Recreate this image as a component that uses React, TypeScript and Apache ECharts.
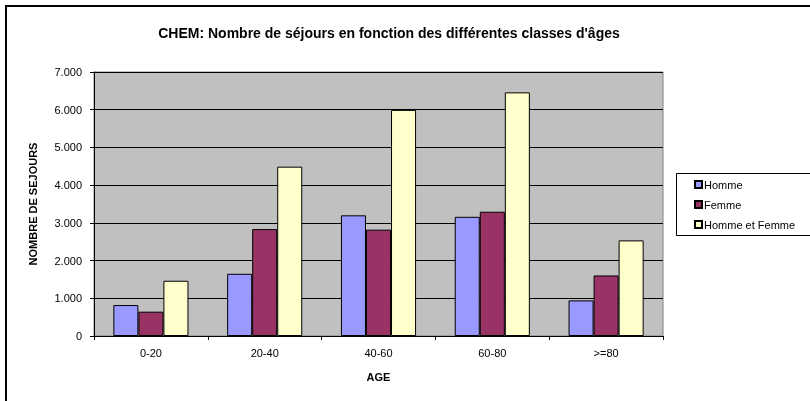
import React, { useEffect, useRef } from "react";
import * as echarts from "echarts";

const categories = ["0-20", "20-40", "40-60", "60-80", ">=80"];
const homme = [820, 1650, 3200, 3160, 945];
const femme = [645, 2835, 2820, 3295, 1605];
const hommeEtFemme = [1465, 4490, 5995, 6460, 2535];
const seriesNames = ["Homme", "Femme", "Homme et Femme"];
const seriesColors = ["#9999FF", "#993366", "#FFFFCC"];

const FONT = "Liberation Sans, Arial, sans-serif";

export default function App() {
  const ref = useRef<HTMLDivElement>(null);
  useEffect(() => {
    document.body.style.margin = "0";
    const chart = echarts.init(ref.current!, null, { renderer: "svg" });
    const values = [homme, femme, hommeEtFemme];
    chart.setOption({
      animation: false,
      textStyle: { fontFamily: FONT },
      title: {
        text: "CHEM: Nombre de séjours en fonction des différentes classes d'âges",
        left: 384,
        top: 21,
        textAlign: "center",
        textStyle: { fontSize: 14, fontWeight: "bold", color: "#000", fontFamily: FONT },
      },
      graphic: [
        {
          type: "rect",
          shape: { x: 6, y: 6, width: 830, height: 420 },
          style: { fill: "none", stroke: "#000", lineWidth: 2 },
          silent: true,
        },
        {
          type: "rect",
          shape: { x: 676.5, y: 173.5, width: 150, height: 62 },
          style: { fill: "#fff", stroke: "#000", lineWidth: 1 },
          silent: true,
          z: 0,
        },
      ],
      legend: {
        orient: "vertical",
        left: 689,
        top: 174,
        itemWidth: 7,
        itemHeight: 7,
        itemGap: 9,
        icon: "rect",
        data: seriesNames,
        textStyle: { fontSize: 11, color: "#000", fontFamily: FONT, padding: [0, 0, 0, -3] },
        z: 10,
      },
      grid: {
        left: 94,
        right: 147,
        top: 72,
        bottom: 65,
        show: true,
        backgroundColor: "#C0C0C0",
        borderColor: "#808080",
        borderWidth: 1,
      },
      xAxis: {
        type: "category",
        data: categories,
        name: "AGE",
        nameLocation: "middle",
        nameGap: 35,
        nameTextStyle: { fontSize: 11, fontWeight: "bold", color: "#000", fontFamily: FONT },
        axisLine: { lineStyle: { color: "#000", width: 1 } },
        axisTick: { show: true, length: 4, lineStyle: { color: "#000" } },
        axisLabel: { fontSize: 11, color: "#000", margin: 11, fontFamily: FONT },
      },
      yAxis: {
        type: "value",
        min: 0,
        max: 7000,
        interval: 1000,
        name: "NOMBRE DE SEJOURS",
        nameLocation: "middle",
        nameGap: 56,
        nameTextStyle: { fontSize: 11, fontWeight: "bold", color: "#000", fontFamily: FONT },
        axisLine: { show: true, lineStyle: { color: "#000", width: 1 } },
        axisTick: { show: true, length: 4, lineStyle: { color: "#000" } },
        splitLine: { show: true, lineStyle: { color: "#000", width: 1 } },
        axisLabel: {
          fontSize: 11,
          color: "#000",
          margin: 12,
          fontFamily: FONT,
          formatter: (v: number) => (v >= 1000 ? `${Math.floor(v / 1000)}.${String(v % 1000).padStart(3, "0")}` : String(v)),
        },
      },
      series: seriesNames.map((name, i) => ({
        name,
        type: "bar",
        data: values[i],
        barGap: "0%",
        barCategoryGap: "34%",
        itemStyle: { color: seriesColors[i], borderColor: "#000", borderWidth: 1 },
      })),
    });
    return () => chart.dispose();
  }, []);
  return <div ref={ref} style={{ position: "fixed", left: 0, top: 0, width: 810, height: 401 }} />;
}
